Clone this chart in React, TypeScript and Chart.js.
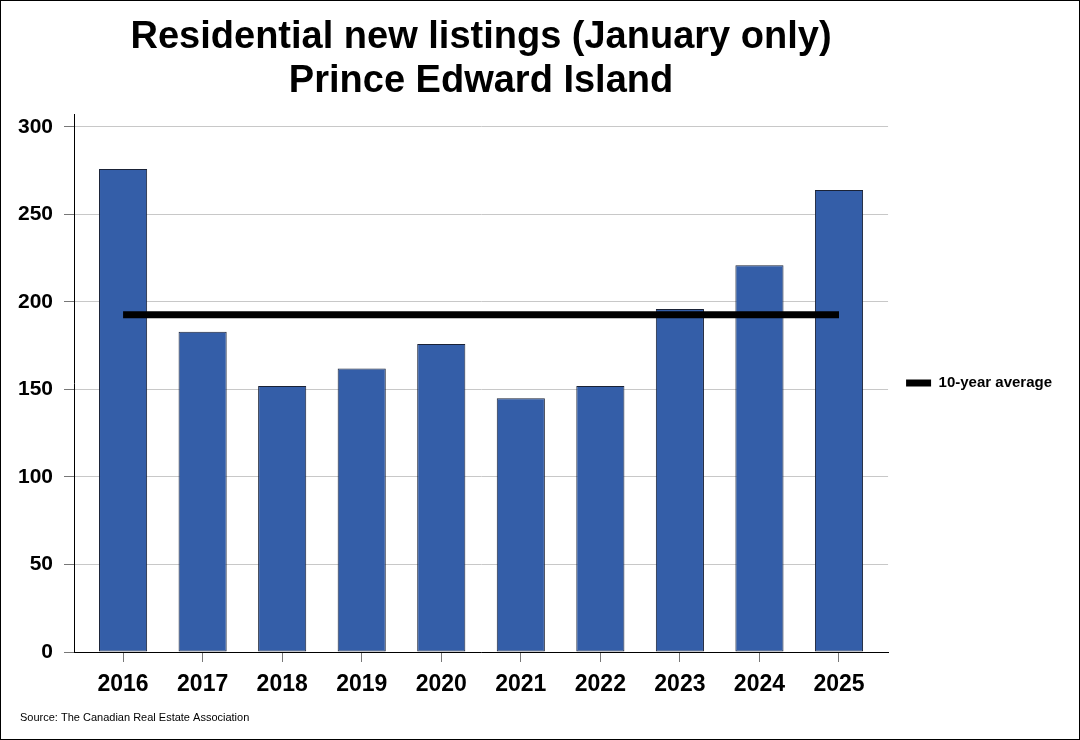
import React, { useEffect, useRef } from "react";
import { Chart, registerables } from "chart.js";

Chart.register(...registerables);

const YEARS = ["2016", "2017", "2018", "2019", "2020", "2021", "2022", "2023", "2024", "2025"];
const NEW_LISTINGS = [276, 183, 152, 162, 176, 145, 152, 196, 221, 264];
const TEN_YEAR_AVERAGE = 192.7;
const Y_TICKS = [0, 50, 100, 150, 200, 250, 300];
const TITLE_LINES = ["Residential new listings (January only)", "Prince Edward Island"];
const SOURCE = "Source: The Canadian Real Estate Association";
const LEGEND_LABEL = "10-year average";

const FONT = '"Liberation Sans", Arial, sans-serif';

const frameAndSourcePlugin = {
  id: "frameAndSource",
  afterDraw(chart: any) {
    const ctx = chart.ctx;
    ctx.save();
    ctx.strokeStyle = "#000";
    ctx.lineWidth = 1;
    ctx.strokeRect(0.5, 0.5, chart.width - 1, chart.height - 1);
    ctx.fillStyle = "#000";
    ctx.font = `11px ${FONT}`;
    ctx.textAlign = "left";
    ctx.textBaseline = "middle";
    ctx.fillText(SOURCE, 20, 718);
    ctx.restore();
  },
};

export default function App() {
  const ref = useRef<HTMLCanvasElement | null>(null);

  useEffect(() => {
    document.body.style.margin = "0";
    if (!ref.current) return;
    const chart = new Chart(ref.current, {
      type: "bar",
      data: {
        datasets: [
          {
            type: "bar",
            label: "New listings",
            data: YEARS.map((_, i) => ({ x: i, y: NEW_LISTINGS[i] })),
            backgroundColor: "#345EA8",
            borderColor: "#1A2236",
            borderWidth: 1,
            borderSkipped: false,
            barPercentage: 0.605,
            categoryPercentage: 1,
            order: 1,
          } as any,
          {
            type: "line",
            label: LEGEND_LABEL,
            data: [
              { x: 0, y: TEN_YEAR_AVERAGE },
              { x: YEARS.length - 1, y: TEN_YEAR_AVERAGE },
            ],
            borderColor: "#000",
            backgroundColor: "#000",
            borderWidth: 7,
            borderCapStyle: "butt",
            pointRadius: 0,
            order: 0,
          } as any,
        ],
      },
      options: {
        responsive: false,
        animation: false,
        layout: { padding: { left: 0, right: 18, top: 0, bottom: 28 } },
        scales: {
          x: {
            type: "linear",
            offset: false,
            min: -0.617,
            max: YEARS.length - 1 + 0.617,
            afterBuildTicks: (scale: any) => {
              scale.ticks = YEARS.map((_, i) => ({ value: i }));
            },
            afterFit: (scale: any) => {
              scale.height = 60;
            },
            ticks: {
              autoSkip: false,
              maxRotation: 0,
              padding: 9,
              color: "#000",
              font: { family: FONT, size: 23, weight: "bold" },
              callback: (v: any) => YEARS[Math.round(v)] ?? "",
            },
            grid: {
              offset: false,
              drawOnChartArea: false,
              tickLength: 10,
              tickColor: "#777",
            },
            border: { color: "#000", width: 1 },
          },
          y: {
            min: 0,
            max: 307.4,
            afterBuildTicks: (scale: any) => {
              scale.ticks = Y_TICKS.map((v) => ({ value: v }));
            },
            afterFit: (scale: any) => {
              scale.width = 74;
            },
            ticks: {
              padding: 11,
              color: "#000",
              font: { family: FONT, size: 21, weight: "bold" },
            },
            grid: {
              color: "#C8C8C8",
              tickColor: "#777",
              tickLength: 10,
            },
            border: { color: "#000", width: 1 },
          },
        },
        plugins: {
          title: {
            display: true,
            text: TITLE_LINES,
            fullSize: false,
            color: "#000",
            font: { family: FONT, size: 38, weight: "bold", lineHeight: 1.158 },
            padding: { top: 16, bottom: 10 },
          },
          legend: {
            display: true,
            position: "right",
            fullSize: false,
            labels: {
              boxWidth: 25,
              boxHeight: 7,
              padding: 18,
              color: "#000",
              font: { family: FONT, size: 15, weight: "bold" },
              generateLabels: () => [
                {
                  text: LEGEND_LABEL,
                  fillStyle: "#000",
                  strokeStyle: "#000",
                  lineWidth: 0,
                  hidden: false,
                  datasetIndex: 1,
                } as any,
              ],
            },
          },
          tooltip: { enabled: false },
        },
      } as any,
      plugins: [frameAndSourcePlugin],
    });
    return () => chart.destroy();
  }, []);

  return (
    <div style={{ width: 1080, height: 740 }}>
      <canvas ref={ref} width={1080} height={740} style={{ display: "block" }} />
    </div>
  );
}
